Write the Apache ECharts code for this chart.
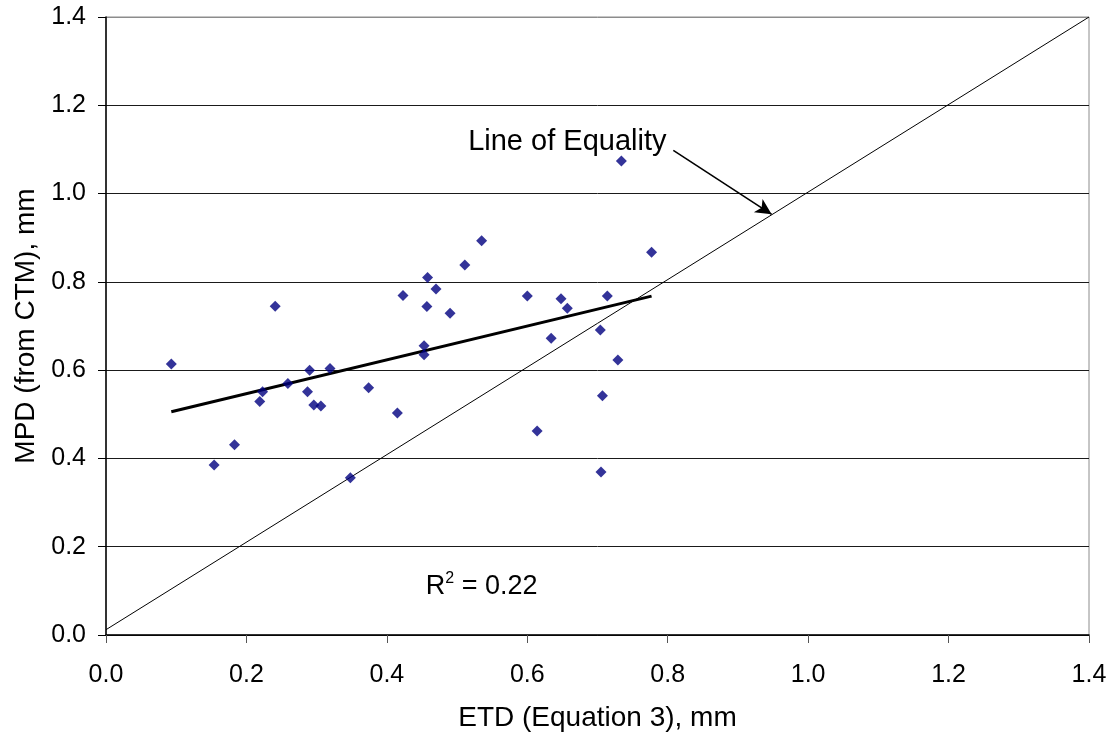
<!DOCTYPE html>
<html>
<head>
<meta charset="utf-8">
<script src="https://cdn.jsdelivr.net/npm/echarts@6/dist/echarts.min.js"></script>
<style>
  html, body { margin: 0; padding: 0; background: #fff; }
  #chart { width: 1114px; height: 736px; }
</style>
</head>
<body>
<div id="chart"></div>
<script>
// ETD (Equation 3) vs MPD (from CTM), both in mm
const etd = [0.093, 0.241, 0.290, 0.319, 0.259, 0.223, 0.219, 0.287, 0.296, 0.306,
             0.374, 0.183, 0.154, 0.535, 0.511, 0.458, 0.470, 0.423, 0.457, 0.490,
             0.600, 0.648, 0.657, 0.714, 0.704, 0.634, 0.453, 0.453, 0.729, 0.415,
             0.707, 0.614, 0.348, 0.734, 0.777, 0.705];
const mpd = [0.614, 0.745, 0.600, 0.604, 0.570, 0.551, 0.529, 0.551, 0.521, 0.519,
             0.560, 0.431, 0.385, 0.893, 0.838, 0.810, 0.784, 0.769, 0.744, 0.729,
             0.768, 0.762, 0.740, 0.768, 0.691, 0.672, 0.655, 0.635, 0.623, 0.503,
             0.542, 0.462, 0.356, 1.074, 0.867, 0.369];

// Line of equality end points
const equalityX = [0.0, 1.4];
const equalityY = [0.012, 1.4];

// Annotation anchors (data coordinates)
const arrowFrom = [0.808, 1.098];
const arrowTo = [0.948, 0.953];
const equalityLabelAt = [0.657, 1.116];
const r2LabelAt = [0.535, 0.113];
const r2Text = '0.22';

const axisTicks = [0.0, 0.2, 0.4, 0.6, 0.8, 1.0, 1.2, 1.4];

// Least-squares trend line over the measured points
function linearFit(xs, ys) {
  const n = xs.length;
  let sx = 0, sy = 0, sxx = 0, sxy = 0;
  for (let i = 0; i < n; i++) { sx += xs[i]; sy += ys[i]; sxx += xs[i] * xs[i]; sxy += xs[i] * ys[i]; }
  const b = (n * sxy - sx * sy) / (n * sxx - sx * sx);
  const a = (sy - b * sx) / n;
  return { a, b };
}
const fit = linearFit(etd, mpd);
const xMin = Math.min(...etd), xMax = Math.max(...etd);
const trend = [[xMin, fit.a + fit.b * xMin], [xMax, fit.a + fit.b * xMax]];

const FONT = '"Liberation Sans", Arial, sans-serif';
const chart = echarts.init(document.getElementById('chart'), null, { renderer: 'canvas' });

const gridColors = axisTicks.map((v, i) => i === axisTicks.length - 1 ? '#8c8c8c' : '#1a1a1a');

chart.setOption({
  animation: false,
  backgroundColor: '#fff',
  grid: {
    left: 106, right: 25, top: 17, bottom: 101,
    containLabel: false, outerBoundsMode: 'none',
    show: true, borderColor: '#8c8c8c', borderWidth: 1
  },
  xAxis: {
    type: 'value', min: 0, max: 1.4, interval: 0.2,
    name: 'ETD (Equation 3), mm', nameLocation: 'middle', nameGap: 69,
    nameTextStyle: { fontFamily: FONT, fontSize: 28, color: '#000' },
    axisLine: { show: true, onZero: false, lineStyle: { color: '#000', width: 1.5 } },
    axisTick: { show: true, inside: false, length: 8, lineStyle: { color: '#555' } },
    axisLabel: { fontFamily: FONT, fontSize: 25, color: '#000', margin: 28, formatter: v => v.toFixed(1) },
    splitLine: { show: false }
  },
  yAxis: {
    type: 'value', min: 0, max: 1.4, interval: 0.2,
    name: 'MPD (from CTM), mm', nameLocation: 'middle', nameGap: 65,
    nameTextStyle: { fontFamily: FONT, fontSize: 28, color: '#000' },
    axisLine: { show: true, onZero: false, lineStyle: { color: '#000', width: 1.5 } },
    axisTick: { show: true, inside: false, length: 8, lineStyle: { color: '#000' } },
    axisLabel: { fontFamily: FONT, fontSize: 25, color: '#000', margin: 20, formatter: v => v.toFixed(1) },
    splitLine: { show: true, lineStyle: { color: gridColors, width: 1 } }
  },
  series: [
    {
      name: 'Line of Equality', type: 'line',
      data: equalityX.map((x, i) => [x, equalityY[i]]),
      showSymbol: false, symbol: 'none',
      lineStyle: { color: '#000', width: 1 },
      silent: true, z: 2
    },
    {
      name: 'Trend', type: 'line', data: trend,
      showSymbol: false, symbol: 'none',
      lineStyle: { color: '#000', width: 3 },
      silent: true, z: 3
    },
    {
      name: 'MPD', type: 'scatter',
      data: etd.map((x, i) => [x, mpd[i]]),
      symbol: 'diamond', symbolSize: [11, 11],
      itemStyle: { color: '#000080' },
      z: 4,
      markLine: {
        silent: true, symbol: ['none', 'arrow'], symbolSize: [12, 16],
        label: { show: false },
        lineStyle: { color: '#000', width: 1.6, type: 'solid' },
        data: [[{ coord: arrowFrom }, { coord: arrowTo }]]
      }
    }
  ]
});

function placeLabels() {
  const p1 = chart.convertToPixel({ gridIndex: 0 }, equalityLabelAt);
  const p2 = chart.convertToPixel({ gridIndex: 0 }, r2LabelAt);
  chart.setOption({
    graphic: [
      {
        type: 'text', x: p1[0], y: p1[1],
        style: { text: 'Line of Equality', font: '29px ' + FONT, fill: '#000', align: 'center', verticalAlign: 'middle' }
      },
      {
        type: 'text', x: p2[0], y: p2[1],
        style: {
          text: '{r|R}{s|2}{r| = ' + r2Text + '}',
          align: 'center', verticalAlign: 'middle',
          rich: {
            r: { fontFamily: FONT, fontSize: 27, fill: '#000', verticalAlign: 'bottom' },
            s: { fontFamily: FONT, fontSize: 16, fill: '#000', verticalAlign: 'top', padding: [0, 0, 13, 0] }
          }
        }
      }
    ]
  });
}
placeLabels();
</script>
</body>
</html>
